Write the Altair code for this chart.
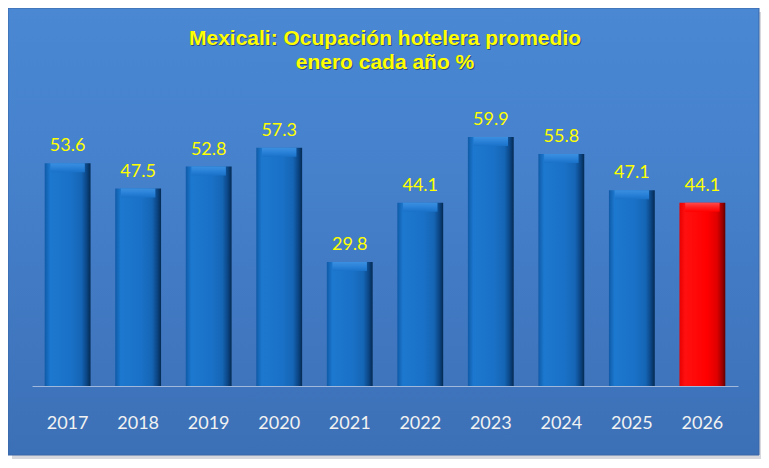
import altair as alt
import pandas as pd

years = ["2017", "2018", "2019", "2020", "2021", "2022", "2023", "2024", "2025", "2026"]
values = [53.6, 47.5, 52.8, 57.3, 29.8, 44.1, 59.9, 55.8, 47.1, 44.1]
highlight = ["no", "no", "no", "no", "no", "no", "no", "no", "no", "yes"]
title_lines = ["Mexicali: Ocupación hotelera promedio", "enero cada año %"]

df = pd.DataFrame({"year": years, "value": values, "hl": highlight})

W, H = 706, 291
PAD = {"left": 24, "top": 87, "right": 23, "bottom": 74}
TITLE_FONT = "Liberation Sans"

x_enc = alt.X(
    "year:N",
    sort=years,
    title=None,
    scale=alt.Scale(paddingInner=0.35, paddingOuter=0.18),
    axis=alt.Axis(
        labelAngle=0,
        labelFont="Lato",
        labelFontSize=18,
        labelColor="#f2f2f2",
        labelPadding=28,
        ticks=False,
        domainColor="#9fb8dc",
        domainWidth=1,
        grid=False,
        zindex=1,
    ),
)
y_enc = alt.Y("value:Q", scale=alt.Scale(domain=[0, 70]), axis=None)

base = alt.Chart(df)
one = pd.DataFrame({"k": [0]})

shadow = alt.Chart(one).mark_rect(fill="#c4c8cf", opacity=0.7).encode(
    x=alt.value(-20), x2=alt.value(731), y=alt.value(-83), y2=alt.value(364)
)

panel = alt.Chart(one).mark_rect(
    fill=alt.Gradient(
        gradient="linear",
        stops=[
            alt.GradientStop(color="#4a88d4", offset=0),
            alt.GradientStop(color="#4580cb", offset=0.4),
            alt.GradientStop(color="#3c70b6", offset=1),
        ],
        x1=0, x2=0, y1=0, y2=1,
    ),
    stroke="#3a66a6",
    strokeWidth=1,
).encode(x=alt.value(-24), x2=alt.value(727), y=alt.value(-87), y2=alt.value(360))

blue_grad = alt.Gradient(
    gradient="linear",
    stops=[
        alt.GradientStop(color="#0f5aa8", offset=0),
        alt.GradientStop(color="#1c78ce", offset=0.12),
        alt.GradientStop(color="#1a72c8", offset=0.55),
        alt.GradientStop(color="#1565b5", offset=0.8),
        alt.GradientStop(color="#0b4482", offset=0.92),
        alt.GradientStop(color="#042a52", offset=1),
    ],
    x1=0, x2=1, y1=0, y2=0,
)
red_grad = alt.Gradient(
    gradient="linear",
    stops=[
        alt.GradientStop(color="#e80000", offset=0),
        alt.GradientStop(color="#ff1010", offset=0.12),
        alt.GradientStop(color="#ff0000", offset=0.6),
        alt.GradientStop(color="#e00000", offset=0.82),
        alt.GradientStop(color="#a00000", offset=0.93),
        alt.GradientStop(color="#600000", offset=1),
    ],
    x1=0, x2=1, y1=0, y2=0,
)

blue_bars = base.transform_filter(alt.datum.hl == "no").mark_bar(fill=blue_grad).encode(x=x_enc, y=y_enc)
red_bars = base.transform_filter(alt.datum.hl == "yes").mark_bar(fill=red_grad).encode(x=x_enc, y=y_enc)

blue_cap = base.transform_filter(alt.datum.hl == "no").mark_bar(
    fill=alt.Gradient(
        gradient="linear",
        stops=[
            alt.GradientStop(color="#3a8fe0", offset=0),
            alt.GradientStop(color="#2a82d8", offset=0.5),
            alt.GradientStop(color="#1a72c8", offset=1),
        ],
        x1=0, x2=0, y1=0, y2=1,
    ),
    y2Offset=9,
    width={"band": 0.75},
).encode(x=x_enc, y=y_enc, y2="value:Q")
red_cap = base.transform_filter(alt.datum.hl == "yes").mark_bar(
    fill=alt.Gradient(
        gradient="linear",
        stops=[
            alt.GradientStop(color="#ff4a4a", offset=0),
            alt.GradientStop(color="#ff2020", offset=0.5),
            alt.GradientStop(color="#ff0000", offset=1),
        ],
        x1=0, x2=0, y1=0, y2=1,
    ),
    y2Offset=9,
    width={"band": 0.75},
).encode(x=x_enc, y=y_enc, y2="value:Q")

labels = base.mark_text(
    font="Lato", fontSize=18, color="#ffff00", baseline="alphabetic", dy=-12
).encode(x=x_enc, y=y_enc, text=alt.Text("value:Q", format=".1f"))

title_layers = []
for i, line in enumerate(title_lines):
    ty = -50 + 24 * i
    title_layers.append(
        alt.Chart(one).mark_text(
            font=TITLE_FONT, fontSize=21, fontWeight="bold", color="#1a2a50",
            baseline="alphabetic", align="center", opacity=0.6,
        ).encode(x=alt.value(W / 2 + 1), y=alt.value(ty + 1), text=alt.value(line))
    )
    title_layers.append(
        alt.Chart(one).mark_text(
            font=TITLE_FONT, fontSize=21, fontWeight="bold", color="#ffff00",
            baseline="alphabetic", align="center",
        ).encode(x=alt.value(W / 2), y=alt.value(ty), text=alt.value(line))
    )

chart = alt.layer(
    shadow, panel, blue_bars, red_bars, blue_cap, red_cap, labels, *title_layers
).properties(
    width=W,
    height=H,
    padding=PAD,
    autosize=alt.AutoSizeParams(type="none"),
    background="white",
).configure_view(stroke=None)

chart.save("out.html", embed_options={"renderer": "svg", "actions": False})
